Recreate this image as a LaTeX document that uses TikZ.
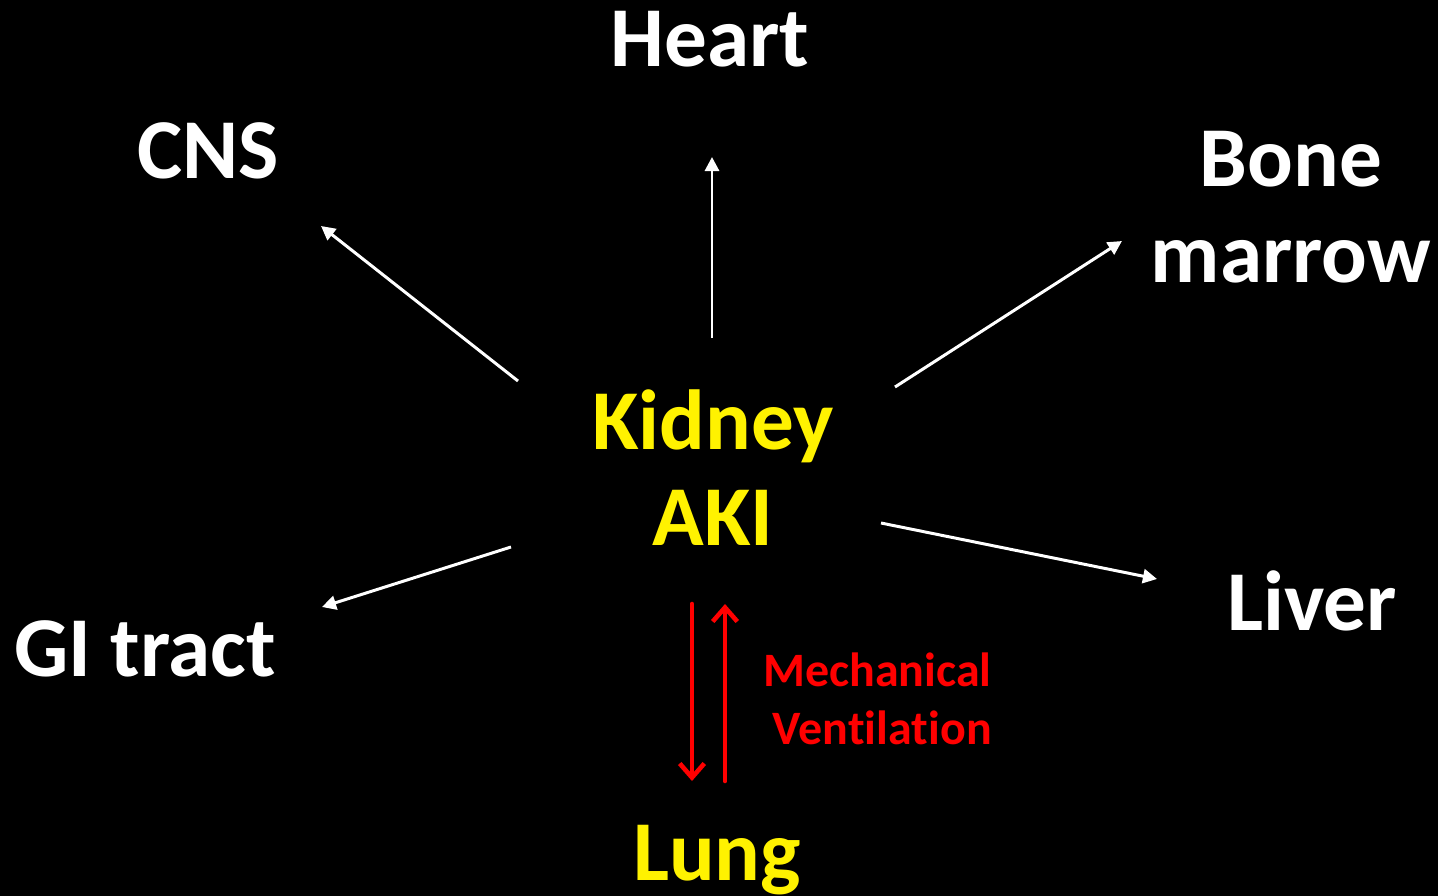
\documentclass[tikz,border=0pt]{standalone}
\usepackage{fontspec}
\setmainfont{Carlito}[Ligatures={NoCommon,NoContextual}]
\usetikzlibrary{arrows.meta}
\tikzset{
    % organ labels
    organ/.style={text=white, font=\bfseries\fontsize{48.5}{54.5}\selectfont,
                  inner sep=0pt, align=center},
    centre/.style={organ, text=yellow},
    redlab/.style={text=red, font=\bfseries\fontsize{27.3}{32.5}\selectfont,
                   inner sep=0pt, align=right},
    % connectors
    whitearrow/.style={-{Triangle[length=8pt,width=8pt]}, line width=1.7pt, white},
    redarrow/.style={-{Straight Barb[length=8pt,width=14pt]}, line width=2.6pt,
                     red, line cap=round},
}
\begin{document}
\begin{tikzpicture}[x=0.02cm, y=-0.02cm]
  % background
  \fill[black] (0,0) rectangle (1438,896);
  \useasboundingbox (0,0) rectangle (1438,896);

  % organs (base = last line)
  \node[centre, anchor=base] (kidney) at (713,545) {Kidney\\AKI};
  \node[organ, anchor=base] (heart)  at (710,66)  {Heart};
  \node[organ, anchor=base] (cns)    at (208,178) {CNS};
  \node[organ, anchor=base] (bone)   at (1291,282) {Bone\\marrow};
  \node[organ, anchor=base] (liver)  at (1312,630) {Liver};
  \node[organ, anchor=base] (gi)     at (145,676) {GI tract};
  \node[centre, anchor=base] (lung)  at (717,880) {Lung};
  \node[redlab, anchor=base east] (mv) at (992,744) {Mechanical\\Vent\kern0pt ilation};

  % arrow ends
  \coordinate (heartS) at (712,338); \coordinate (heartE) at (712,157);
  \coordinate (cnsS)   at (518,381); \coordinate (cnsE)   at (321,226);
  \coordinate (boneS)  at (895,387); \coordinate (boneE)  at (1122,241);
  \coordinate (liverS) at (881,523); \coordinate (liverE) at (1157,579);
  \coordinate (giS)    at (511,547); \coordinate (giE)    at (322,607);
  \coordinate (downS)  at (692,604); \coordinate (downE)  at (692,781);
  \coordinate (upS)    at (725,781); \coordinate (upE)    at (725,604);

  \draw[whitearrow] (heartS) -- (heartE);
  \draw[whitearrow] (cnsS) -- (cnsE);
  \draw[whitearrow] (boneS) -- (boneE);
  \draw[whitearrow] (liverS) -- (liverE);
  \draw[whitearrow] (giS) -- (giE);
  \draw[redarrow] (downS) -- (downE);
  \draw[redarrow] (upS) -- (upE);
\end{tikzpicture}
\end{document}
